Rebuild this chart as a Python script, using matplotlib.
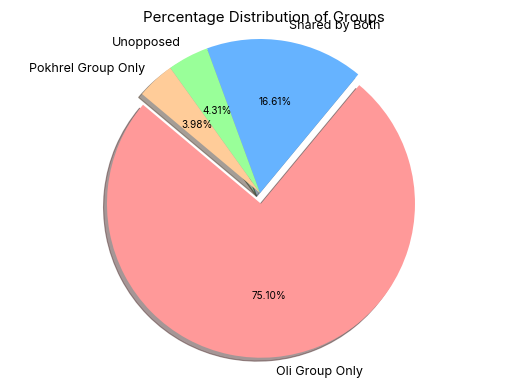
import matplotlib
matplotlib.use("Agg")
import matplotlib.pyplot as plt

labels = ["Oli Group Only", "Shared by Both", "Unopposed", "Pokhrel Group Only"]
values = [75.10, 16.61, 4.31, 3.98]
colors = ["#ff9999", "#66b3ff", "#99ff99", "#ffcc99"]
explode = [0.07, 0, 0, 0]

plt.rcParams["font.family"] = ["Inter", "DejaVu Sans"]

W, H = 512, 384
fig = plt.figure(figsize=(6.4, 4.8), dpi=80)
ax = fig.add_axes([0, 0, 1, 1])

wedges, texts, autotexts = ax.pie(values, labels=labels, colors=colors,
                                  explode=explode, autopct="%1.2f%%",
                                  startangle=140, shadow=True,
                                  textprops={"fontsize": 11.3})
for t in autotexts:
    t.set_fontsize(9)

# map data units to pixel geometry of the reference
cx, cy, r = 260, 193, 154
ax.set_aspect("auto")
ax.set_xlim(-cx / r, (W - cx) / r)
ax.set_ylim(-(H - cy) / r, cy / r)
ax.axis("off")

fig.text(264 / W, 1 - 18 / H, "Percentage Distribution of Groups",
         ha="center", va="center", fontsize=13.6)

fig.savefig("out.png", dpi=80)
